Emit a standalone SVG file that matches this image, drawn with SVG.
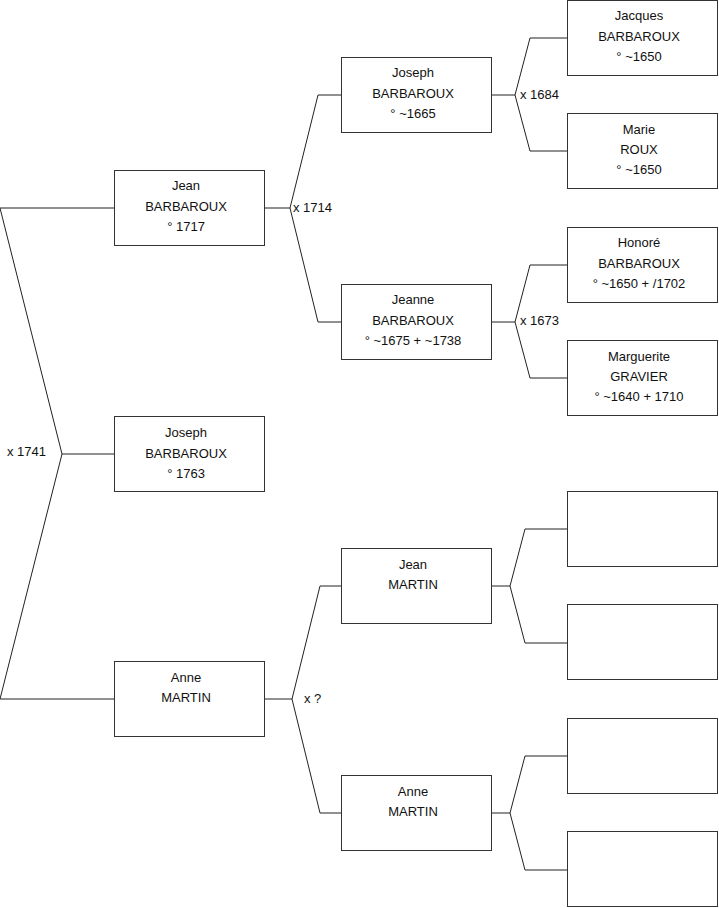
<svg xmlns="http://www.w3.org/2000/svg" width="719" height="908" viewBox="0 0 719 908">
<style>
.box{fill:#fff;stroke:#333;stroke-width:1}
.ln{fill:none;stroke:#222;stroke-width:1}
text{font-family:"Liberation Sans",Arial,sans-serif;font-size:13px;fill:#111}
.c{text-anchor:middle}
</style>
<rect width="719" height="908" fill="#fff"/>
<g id="connectors">
<path class="ln" d="M114,454H62L0,208H114M62,454L0,699H114"/>
<path class="ln" d="M265,208H290L318,95H341M290,208L318,322H341"/>
<path class="ln" d="M492,95H515L530,38H567M515,95L530,151H567"/>
<path class="ln" d="M492,322H515L530,265H567M515,322L530,378H567"/>
<path class="ln" d="M265,699H292L320,586H341M292,699L320,813H341"/>
<path class="ln" d="M492,586H510L525,529H567M510,586L525,643H567"/>
<path class="ln" d="M492,813H510L525,756H567M510,813L525,870H567"/>
<text x="7" y="456">x 1741</text>
<text x="293" y="212">x 1714</text>
<text x="520" y="99">x 1684</text>
<text x="520" y="325">x 1673</text>
<text x="304" y="703">x ?</text>
</g>
<g id="n-jean-barbaroux"><rect class="box" x="114.5" y="170.5" width="150" height="75"/>
<text class="c" x="186" y="190">Jean</text><text class="c" x="186" y="211">BARBAROUX</text><text class="c" x="186" y="231">° 1717</text></g>
<g id="n-joseph-barbaroux-1763"><rect class="box" x="114.5" y="416.5" width="150" height="75"/>
<text class="c" x="186" y="437">Joseph</text><text class="c" x="186" y="458">BARBAROUX</text><text class="c" x="186" y="478">° 1763</text></g>
<g id="n-anne-martin"><rect class="box" x="114.5" y="661.5" width="150" height="75"/>
<text class="c" x="186" y="682">Anne</text><text class="c" x="186" y="702">MARTIN</text></g>
<g id="n-joseph-barbaroux-1665"><rect class="box" x="341.5" y="57.5" width="150" height="75"/>
<text class="c" x="413" y="77">Joseph</text><text class="c" x="413" y="98">BARBAROUX</text><text class="c" x="413" y="118">° ~1665</text></g>
<g id="n-jeanne-barbaroux"><rect class="box" x="341.5" y="284.5" width="150" height="75"/>
<text class="c" x="413" y="304">Jeanne</text><text class="c" x="413" y="325">BARBAROUX</text><text class="c" x="413" y="345">° ~1675 + ~1738</text></g>
<g id="n-jean-martin"><rect class="box" x="341.5" y="548.5" width="150" height="75"/>
<text class="c" x="413" y="569">Jean</text><text class="c" x="413" y="589">MARTIN</text></g>
<g id="n-anne-martin-2"><rect class="box" x="341.5" y="775.5" width="150" height="75"/>
<text class="c" x="413" y="796">Anne</text><text class="c" x="413" y="816">MARTIN</text></g>
<g id="n-jacques-barbaroux"><rect class="box" x="567.5" y="0.5" width="150" height="75"/>
<text class="c" x="639" y="20">Jacques</text><text class="c" x="639" y="41">BARBAROUX</text><text class="c" x="639" y="61">° ~1650</text></g>
<g id="n-marie-roux"><rect class="box" x="567.5" y="113.5" width="150" height="75"/>
<text class="c" x="639" y="134">Marie</text><text class="c" x="639" y="154">ROUX</text><text class="c" x="639" y="174">° ~1650</text></g>
<g id="n-honore-barbaroux"><rect class="box" x="567.5" y="227.5" width="150" height="75"/>
<text class="c" x="639" y="247">Honoré</text><text class="c" x="639" y="268">BARBAROUX</text><text class="c" x="639" y="288">° ~1650 + /1702</text></g>
<g id="n-marguerite-gravier"><rect class="box" x="567.5" y="340.5" width="150" height="75"/>
<text class="c" x="639" y="361">Marguerite</text><text class="c" x="639" y="381">GRAVIER</text><text class="c" x="639" y="401">° ~1640 + 1710</text></g>
<g id="n-empty-1"><rect class="box" x="567.5" y="491.5" width="150" height="75"/></g>
<g id="n-empty-2"><rect class="box" x="567.5" y="604.5" width="150" height="75"/></g>
<g id="n-empty-3"><rect class="box" x="567.5" y="718.5" width="150" height="75"/></g>
<g id="n-empty-4"><rect class="box" x="567.5" y="831.5" width="150" height="75"/></g>
</svg>
